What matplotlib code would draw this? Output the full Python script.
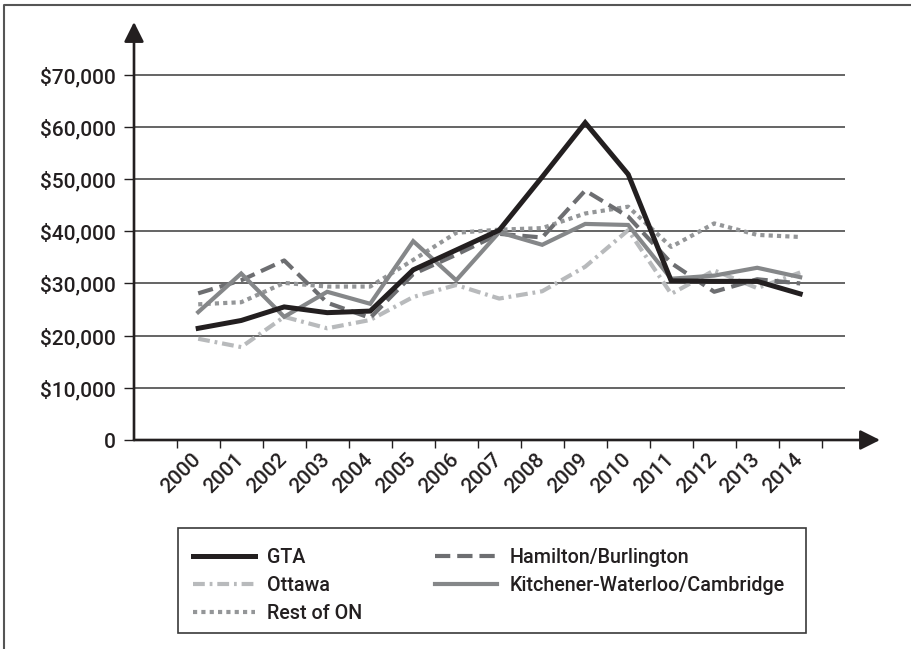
import numpy as np
import matplotlib
matplotlib.use("Agg")
import matplotlib.pyplot as plt
from matplotlib.lines import Line2D
from matplotlib.patches import Rectangle

# ---------------------------- data
years = ['2000', '2001', '2002', '2003', '2004', '2005', '2006', '2007',
         '2008', '2009', '2010', '2011', '2012', '2013', '2014']

gta = [21400, 22900, 25500, 24400, 24700, 32600, 36400, 40200,
       50400, 60800, 50900, 30500, 30400, 30400, 28000]
hamilton = [28100, 30600, 34400, 26300, 23400, 31800, 35500, 39500,
            38800, 47800, 42800, 33900, 28400, 30800, 30000]
ottawa = [19400, 17800, 23600, 21400, 23000, 27400, 29700, 27100,
          28500, 33200, 40200, 28000, 32500, 29100, 32100]
kitchener = [24500, 31900, 23600, 28400, 26100, 38100, 30600, 39800,
             37400, 41400, 41200, 30900, 31500, 33000, 31200]
rest_on = [26000, 26400, 30100, 29400, 29400, 34500, 39700, 40300,
           40600, 43400, 44700, 37000, 41500, 39300, 38900]

yticks = [0, 10000, 20000, 30000, 40000, 50000, 60000, 70000]
ytick_labels = ['0', '$10,000', '$20,000', '$30,000', '$40,000',
                '$50,000', '$60,000', '$70,000']

# ---------------------------- styling
plt.rcParams['font.family'] = ['Roboto', 'DejaVu Sans']
plt.rcParams['font.weight'] = 'medium'
plt.rcParams['lines.scale_dashes'] = False
txt = '#231f20'

W, H = 911, 649
fig = plt.figure(figsize=(W / 100, H / 100), dpi=100)

# axes placed in pixel terms: y axis at x=134, x axis at y=440
x0, x1, ytop, ybot = 134, 880, 22, 440
ax = fig.add_axes([x0 / W, (H - ybot) / H, (x1 - x0) / W, (ybot - ytop) / H])
ax.set_xlim(-1.493, 15.856)
ax.set_ylim(0, 80090)
for s in ax.spines.values():
    s.set_visible(False)

x = np.arange(len(years))

# gridlines stop short of the arrow
ax.hlines(yticks[1:], -1.493, 15.04, color='#3a3a3a', lw=1.1, zorder=1)

ax.plot(x, ottawa, color='#b8babc', lw=3, ls=(0, (8.5, 3.5, 2, 3.5)),
        label='Ottawa', zorder=2)
ax.plot(x, rest_on, color='#949698', lw=3, ls=(0, (3, 3)),
        label='Rest of ON', zorder=3)
ax.plot(x, hamilton, color='#6d6e71', lw=3, ls=(0, (11, 5)),
        label='Hamilton/Burlington', zorder=4)
ax.plot(x, kitchener, color='#858789', lw=3, solid_joinstyle='miter',
        label='Kitchener-Waterloo/Cambridge', zorder=5)
ax.plot(x, gta, color=txt, lw=3.6, solid_joinstyle='miter',
        label='GTA', zorder=6)

# axes as arrows
arrow = dict(arrowstyle='-|>,head_length=0.6,head_width=0.3', lw=1.9,
             color=txt, mutation_scale=20, shrinkA=0, shrinkB=0)
ax.annotate('', xy=(1, 0), xytext=(0, 0), xycoords='axes fraction',
            arrowprops=arrow, zorder=7, annotation_clip=False)
ax.annotate('', xy=(0, 1), xytext=(0, 0), xycoords='axes fraction',
            arrowprops=arrow, zorder=7, annotation_clip=False)

# ticks
ax.set_yticks(yticks)
ax.set_yticklabels(ytick_labels)
ax.tick_params(axis='y', length=7.2, width=1, color=txt, pad=6,
               labelsize=15, labelcolor=txt)

ax.set_xticks(x)
ax.set_xticklabels(years)
ax.set_xticks(np.arange(-0.5, len(years)), minor=True)
ax.tick_params(axis='x', which='major', length=0, pad=12,
               labelsize=15, labelcolor=txt)
ax.tick_params(axis='x', which='minor', length=6, width=1, color=txt)
plt.setp(ax.get_xticklabels(), rotation=45, ha='right', va='center',
         rotation_mode='anchor')

# legend with a hand drawn box
h = {l.get_label(): l for l in ax.get_lines()}
order = ['GTA', 'Ottawa', 'Rest of ON', 'Hamilton/Burlington',
         'Kitchener-Waterloo/Cambridge']
fig.legend([h[k] for k in order], order, ncol=2, frameon=False,
           loc='upper left', bbox_to_anchor=(193 / W, 1 - 548 / H),
           borderpad=0, borderaxespad=0, fontsize=14.2,
           handlelength=3.15, handletextpad=0.6, columnspacing=3.7,
           labelspacing=0.45, labelcolor=txt)
fig.add_artist(Rectangle((178 / W, 1 - 633 / H), 628 / W, 105 / H,
                         transform=fig.transFigure, fill=False,
                         ec='#3a3a3a', lw=1.2))

# outer frame (only top and left are visible in the crop)
fig.add_artist(Line2D([4 / W, 4 / W, 1], [0, 1 - 5 / H, 1 - 5 / H],
                      transform=fig.transFigure, color='#555555', lw=1.5))

fig.savefig('out.png', dpi=100)
